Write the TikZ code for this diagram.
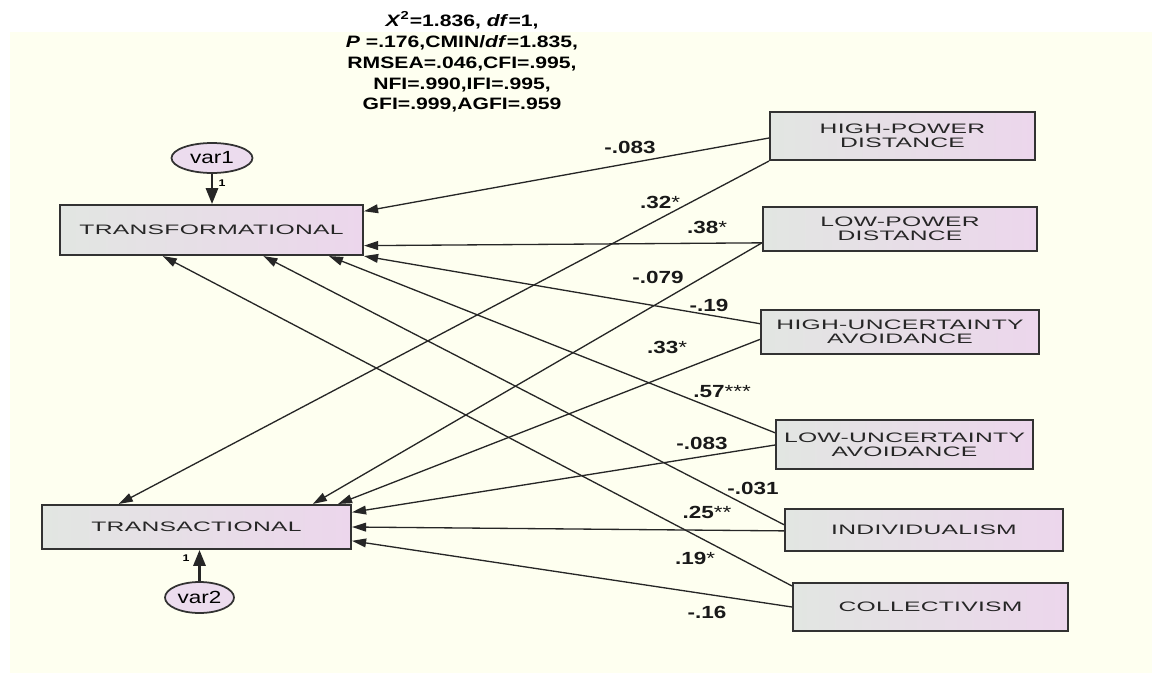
\documentclass[tikz,border=0pt]{standalone}
\usepackage{fontspec}
\setmainfont{Liberation Sans}
\newfontfamily\boxfont[FakeStretch=1.8,LetterSpace=2]{Liberation Sans}
\newfontfamily\lblfont[FakeStretch=1.28]{Liberation Sans}
\usetikzlibrary{arrows.meta,calc,shapes.geometric}
\definecolor{cream}{RGB}{254,255,240}
\definecolor{boxleft}{RGB}{226,230,226}
\definecolor{boxright}{RGB}{236,214,236}
\definecolor{varfill}{RGB}{236,220,238}
\definecolor{edge}{RGB}{50,50,50}
\begin{document}
\begin{tikzpicture}[
		x=0.02cm, y=-0.02cm,
		construct/.style={draw=edge, line width=1.2pt, left color=boxleft, right color=boxright,
				align=center, inner sep=0pt, text=black!85,
				font=\boxfont\fontsize{7.8}{8.1}\selectfont},
		residual/.style={ellipse, draw=edge, line width=1pt, fill=varfill, inner sep=0pt,
				font=\lblfont\fontsize{10}{11}\selectfont},
		effect/.style={draw=black!85, line width=0.75pt, -{Triangle[length=8pt,width=5pt]}},
		loading/.style={draw=black!85, line width=1.2pt, -{Triangle[length=9pt,width=7pt]}},
		coef/.style={inner sep=0pt, text=black!90, font=\lblfont\bfseries\fontsize{10}{12}\selectfont},
		fixed/.style={inner sep=0pt, font=\lblfont\bfseries\fontsize{5.5}{6}\selectfont}
	]
	\useasboundingbox (0,0) rectangle (1152,673);
	\fill[cream] (10,32) rectangle (1152,673);

	\node[inner sep=0pt, align=center, font=\lblfont\bfseries\fontsize{9.4}{11.9}\selectfont] (fit) at (462,62)
	{\textit{X}\textsuperscript{2}=1.836, \textit{df}=1,\\
		\textit{P} =.176,CMIN/\textit{df}=1.835,\\
		RMSEA=.046,CFI=.995,\\
		NFI=.990,IFI=.995,\\
		GFI=.999,AGFI=.959};

	\node[construct, minimum width=6.06cm, minimum height=1cm] (tf) at (211.5,230) {TRANSFORMATIONAL};
	\node[construct, minimum width=6.18cm, minimum height=0.88cm] (ta) at (196.5,527) {TRANSACTIONAL};
	\node[residual, minimum width=1.62cm, minimum height=0.6cm] (var1) at (212,158) {var1};
	\node[residual, minimum width=1.38cm, minimum height=0.62cm] (var2) at (199.5,597.5) {var2};

	\node[construct, minimum width=5.3cm, minimum height=0.96cm] (hpd) at (902.5,136) {HIGH-POWER\\DISTANCE};
	\node[construct, minimum width=5.48cm, minimum height=0.88cm] (lpd) at (900,229) {LOW-POWER\\DISTANCE};
	\node[construct, minimum width=5.56cm, minimum height=0.88cm] (hua) at (900,332) {HIGH-UNCERTAINTY\\AVOIDANCE};
	\node[construct, minimum width=5.14cm, minimum height=0.98cm] (lua) at (904.5,444.5) {LOW-UNCERTAINTY\\AVOIDANCE};
	\node[construct, minimum width=5.56cm, minimum height=0.84cm] (ind) at (924,530) {INDIVIDUALISM};
	\node[construct, minimum width=5.5cm, minimum height=0.96cm] (col) at (930.5,607) {COLLECTIVISM};

	\draw[loading] (var1.south) -- (var1.south |- tf.north);
	\node[fixed] (one1) at (222,183) {1};
	\draw[loading] (var2.north) -- (var2.north |- ta.south);
	\node[fixed] (one2) at (186,558) {1};

	\draw[effect] ($(hpd.north west)!.54!(hpd.south west)$) -- ($(tf.north east)!.14!(tf.south east)$);
	\draw[effect] (hpd.south west) -- ($(ta.north west)!.25!(ta.north east)$);
	\draw[effect] ($(lpd.north west)!.8!(lpd.south west)$) -- ($(tf.north east)!.8!(tf.south east)$);
	\draw[effect] ($(lpd.north west)!.8!(lpd.south west)$) -- ($(ta.north west)!.874!(ta.north east)$);
	\draw[effect] ($(hua.north west)!.32!(hua.south west)$) -- (tf.south east);
	\draw[effect] ($(hua.north west)!.66!(hua.south west)$) -- ($(ta.north west)!.955!(ta.north east)$);
	\draw[effect] ($(lua.north west)!.27!(lua.south west)$) -- ($(tf.south west)!.885!(tf.south east)$);
	\draw[effect] ($(lua.north west)!.51!(lua.south west)$) -- ($(ta.north east)!.18!(ta.south east)$);
	\draw[effect] ($(ind.north west)!.38!(ind.south west)$) -- ($(tf.south west)!.67!(tf.south east)$);
	\draw[effect] ($(ind.north west)!.52!(ind.south west)$) -- (ta.east);
	\draw[effect] ($(col.north west)!.08!(col.south west)$) -- ($(tf.south west)!.34!(tf.south east)$);
	\draw[effect] (col.west) -- ($(ta.north east)!.8!(ta.south east)$);

	\node[coef] (c1) at (630,147) {-.083};
	\node[coef] (c2) at (660,202) {.32{\mdseries*}};
	\node[coef] (c3) at (707,227) {.38{\mdseries*}};
	\node[coef] (c4) at (658,277) {-.079};
	\node[coef] (c5) at (709,305) {-.19};
	\node[coef] (c6) at (667,347) {.33{\mdseries*}};
	\node[coef] (c7) at (722,392) {.57{\mdseries***}};
	\node[coef] (c8) at (702,443) {-.083};
	\node[coef] (c9) at (753,488) {-.031};
	\node[coef] (c10) at (707,512) {.25{\mdseries**}};
	\node[coef] (c11) at (695,558) {.19{\mdseries*}};
	\node[coef] (c12) at (707,612) {-.16};
\end{tikzpicture}
\end{document}
